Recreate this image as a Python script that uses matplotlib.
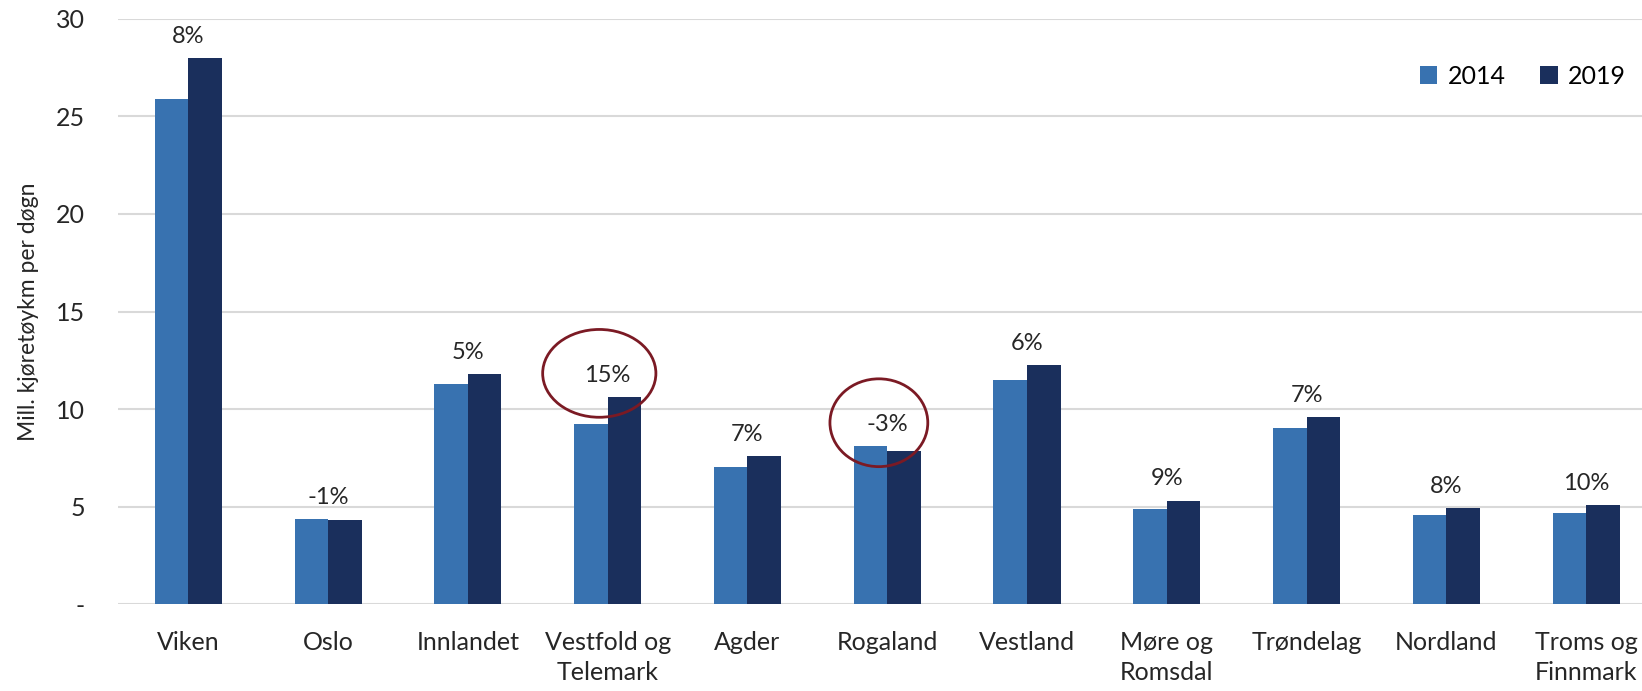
import matplotlib.pyplot as plt
import numpy as np
from matplotlib.patches import Ellipse

plt.rcParams['font.family'] = ['Lato', 'DejaVu Sans']

# data
regions = ['Viken', 'Oslo', 'Innlandet', 'Vestfold og\nTelemark', 'Agder', 'Rogaland',
           'Vestland', 'Møre og\nRomsdal', 'Trøndelag', 'Nordland', 'Troms og\nFinnmark']
v2014 = [25.87, 4.35, 11.27, 9.23, 7.03, 8.10, 11.49, 4.88, 9.02, 4.56, 4.67]
v2019 = [27.97, 4.29, 11.81, 10.63, 7.57, 7.84, 12.24, 5.31, 9.61, 4.94, 5.10]
changes = ['8%', '-1%', '5%', '15%', '7%', '-3%', '6%', '9%', '7%', '8%', '10%']
circled = ['Vestfold og\nTelemark', 'Rogaland']

c2014 = '#3872b0'
c2019 = '#1a2f5c'

fig = plt.figure(figsize=(16.42, 6.91), dpi=100)
ax = fig.add_axes([0.0721, 0.1256, 0.9365, 0.8472])

x = np.arange(len(regions))
w = 0.24
ax.bar(x - w / 2, v2014, w, color=c2014, label='2014', zorder=3)
ax.bar(x + w / 2, v2019, w, color=c2019, label='2019', zorder=3)

# percentage labels over each pair
for i, lab in enumerate(changes):
    top = max(v2014[i], v2019[i])
    ax.annotate(lab, (i, top), xytext=(0, 8), textcoords='offset points',
                ha='center', va='bottom', fontsize=17, color='#262626')

# red rings round the highlighted labels
for name in circled:
    i = regions.index(name)
    top = max(v2014[i], v2019[i])
    ew = 0.81 if i == 3 else 0.70
    ax.add_patch(Ellipse((i - 0.06, top + 1.2), ew, 4.5, fill=False,
                         edgecolor='#7b1a24', linewidth=2, zorder=4))

ax.set_xlim(-0.5, len(regions) - 0.5)
ax.set_ylim(0, 30)
ax.set_yticks([0, 5, 10, 15, 20, 25, 30])
ax.set_yticklabels(['-', '5', '10', '15', '20', '25', '30'], fontsize=18, color='#262626')
ax.set_xticks(x)
ax.set_xticklabels(regions, fontsize=18, color='#262626', linespacing=1.4, va='top')
ax.tick_params(axis='both', length=0)
ax.tick_params(axis='x', pad=19)
ax.tick_params(axis='y', pad=24)

ax.set_ylabel('Mill. kjøretøykm per døgn', fontsize=16.5, color='#262626', labelpad=12)

ax.grid(axis='y', color='#d9d9d9', linewidth=1.5, zorder=0)
ax.set_axisbelow(True)
for s in ax.spines.values():
    s.set_visible(False)

ax.legend(loc='upper right', bbox_to_anchor=(0.995, 0.96), ncol=2, frameon=False,
          fontsize=18, handlelength=0.7, handleheight=0.7, columnspacing=1.4,
          handletextpad=0.4)

fig.savefig('out.png', dpi=100)
